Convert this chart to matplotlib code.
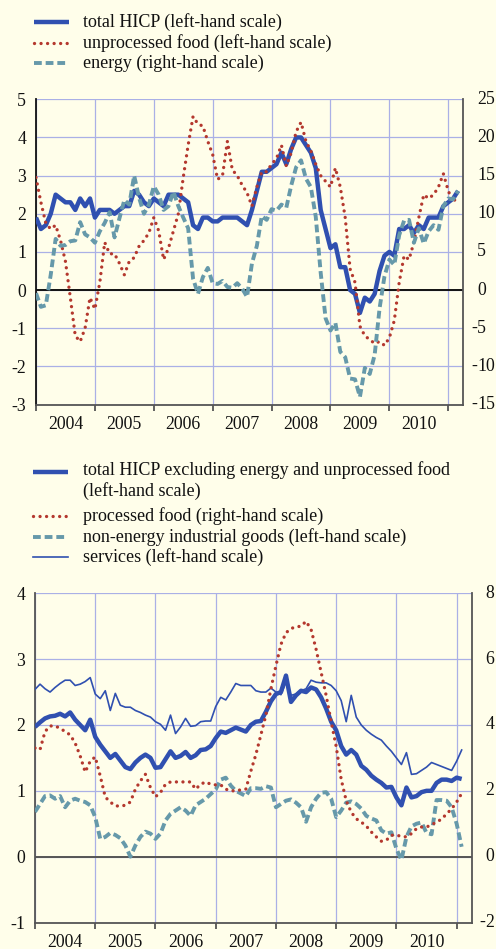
import matplotlib
matplotlib.use("Agg")
import matplotlib.pyplot as plt
import matplotlib.transforms as mtrans
from matplotlib.lines import Line2D
import numpy as np

plt.rcParams['font.family'] = ['Liberation Serif', 'DejaVu Serif']
plt.rcParams['axes.unicode_minus'] = False

# ---------------- data ----------------
start_year = 2004
year_labels = ['2004', '2005', '2006', '2007', '2008', '2009', '2010']

# top chart: Jan 2004 - Mar 2011 (annual % changes)
total_hicp = [1.9, 1.6, 1.7, 2.0, 2.5, 2.4, 2.3, 2.3, 2.1, 2.4, 2.2, 2.4,
              1.9, 2.1, 2.1, 2.1, 2.0, 2.1, 2.2, 2.2, 2.6, 2.5, 2.3, 2.2,
              2.4, 2.3, 2.2, 2.5, 2.5, 2.5, 2.4, 2.3, 1.7, 1.6, 1.9, 1.9,
              1.8, 1.8, 1.9, 1.9, 1.9, 1.9, 1.8, 1.7, 2.1, 2.6, 3.1, 3.1,
              3.2, 3.3, 3.6, 3.3, 3.7, 4.0, 4.0, 3.8, 3.6, 3.2, 2.1, 1.6,
              1.1, 1.2, 0.6, 0.6, 0.0, -0.1, -0.6, -0.2, -0.3, -0.1, 0.5, 0.9,
              1.0, 0.9, 1.6, 1.6, 1.7, 1.5, 1.7, 1.6, 1.9, 1.9, 1.9, 2.2,
              2.3, 2.4, 2.6]
unprocessed_food = [2.95, 2.3, 1.75, 1.6, 1.7, 1.3, 0.75, -0.2, -1.2, -1.35, -1.0, -0.2,
                    -0.5, 0.2, 1.25, 0.95, 0.95, 0.7, 0.4, 0.75, 0.85, 1.15, 1.3, 1.5,
                    1.9, 1.55, 0.8, 1.1, 1.55, 2.0, 2.95, 3.8, 4.55, 4.35, 4.3, 3.9,
                    3.55, 2.9, 3.0, 3.9, 3.15, 3.0, 2.75, 2.55, 2.2, 2.7, 3.1, 3.1,
                    3.3, 3.45, 3.8, 3.25, 3.6, 4.15, 4.4, 3.9, 3.65, 3.3, 3.0, 2.85,
                    2.7, 3.2, 2.7, 1.9, 0.55, 0.2, -0.95, -1.2, -1.3, -1.4, -1.35, -1.45,
                    -1.25, -0.8, 0.2, 0.9, 0.8, 1.25, 1.9, 2.5, 2.4, 2.5, 2.7, 3.05,
                    2.6, 2.3, 2.5]
energy = [-0.4, -2.2, -2.0, 2.0, 6.7, 5.8, 5.9, 6.4, 6.5, 8.9, 7.3, 6.9,
          6.2, 7.7, 8.8, 10.2, 6.9, 9.4, 11.8, 11.2, 15.0, 12.1, 10.0, 11.2,
          13.6, 12.5, 10.5, 11.0, 12.9, 11.0, 9.5, 8.1, 1.5, -0.5, 1.7, 2.9,
          0.9, 0.8, 1.2, 0.4, 0.3, 0.9, 0.2, -0.9, 3.5, 5.8, 9.7, 9.2,
          10.6, 10.4, 11.2, 10.8, 13.7, 16.1, 17.0, 14.6, 13.5, 9.6, 2.3, -3.7,
          -5.3, -4.3, -8.1, -8.8, -11.6, -11.7, -14.0, -10.2, -11.0, -8.5, -2.4, 1.8,
          4.0, 3.3, 7.2, 9.1, 9.2, 6.2, 8.1, 6.1, 7.7, 8.5, 7.9, 11.0,
          12.0, 11.9, 13.0]

# bottom chart: Jan 2004 - Feb 2011
hicp_ex = [1.97, 2.04, 2.1, 2.13, 2.14, 2.17, 2.13, 2.19, 2.08, 2.0, 1.92, 2.08,
           1.82, 1.7, 1.6, 1.5, 1.56, 1.46, 1.36, 1.33, 1.43, 1.5, 1.55, 1.5,
           1.35, 1.36, 1.48, 1.6, 1.5, 1.53, 1.59, 1.5, 1.54, 1.62, 1.63, 1.68,
           1.8, 1.9, 1.88, 1.92, 1.96, 1.93, 1.9, 2.0, 2.05, 2.06, 2.2, 2.36,
           2.47, 2.5, 2.75, 2.35, 2.45, 2.52, 2.5, 2.57, 2.54, 2.42, 2.25, 2.05,
           1.92, 1.68, 1.55, 1.62, 1.55, 1.38, 1.32, 1.23, 1.17, 1.12, 1.05, 1.06,
           0.9, 0.78, 1.05, 0.9, 0.92, 0.98, 1.0, 1.0, 1.12, 1.17, 1.17, 1.15,
           1.2, 1.18]
processed_food = [3.3, 3.25, 3.8, 3.97, 3.97, 3.9, 3.8, 3.7, 3.45, 3.06, 2.57, 2.9,
                  3.03, 2.45, 1.81, 1.66, 1.54, 1.54, 1.56, 1.66, 2.05, 2.3, 2.5, 2.1,
                  1.82, 1.95, 2.2, 2.27, 2.27, 2.27, 2.27, 2.27, 2.05, 2.2, 2.27, 2.2,
                  2.18, 2.18, 2.05, 2.0, 2.0, 2.03, 2.05, 2.6, 3.1, 3.7, 4.3, 5.1,
                  5.8, 6.45, 6.8, 6.93, 6.98, 7.0, 7.15, 6.9, 6.3, 5.6, 4.9, 4.1,
                  3.35, 2.35, 1.7, 1.35, 1.15, 1.05, 0.93, 0.75, 0.6, 0.47, 0.5, 0.65,
                  0.65, 0.62, 0.6, 0.7, 0.85, 0.9, 0.9, 0.97, 1.05, 1.14, 1.3, 1.45,
                  1.66, 1.92]
neig = [0.68, 0.8, 0.92, 0.93, 0.88, 0.92, 0.75, 0.85, 0.88, 0.85, 0.83, 0.78,
        0.6, 0.27, 0.3, 0.36, 0.33, 0.28, 0.17, 0.0, 0.17, 0.3, 0.38, 0.35,
        0.27, 0.35, 0.55, 0.65, 0.7, 0.75, 0.7, 0.62, 0.78, 0.83, 0.88, 0.95,
        1.02, 1.17, 1.2, 1.08, 1.0, 0.96, 0.92, 1.04, 1.04, 1.03, 1.07, 1.05,
        0.75, 0.8, 0.85, 0.87, 0.82, 0.75, 0.53, 0.75, 0.88, 0.97, 0.98, 0.88,
        0.6, 0.7, 0.82, 0.84, 0.8, 0.73, 0.62, 0.58, 0.55, 0.4, 0.35, 0.37,
        0.12, -0.05, 0.3, 0.46, 0.5, 0.52, 0.36, 0.34, 0.86, 0.86, 0.85, 0.75,
        0.5, 0.15]
services = [2.54, 2.62, 2.55, 2.5, 2.57, 2.63, 2.68, 2.68, 2.6, 2.62, 2.66, 2.72,
            2.47, 2.4, 2.52, 2.22, 2.48, 2.3, 2.27, 2.27, 2.22, 2.19, 2.15, 2.12,
            2.05, 2.01, 1.92, 2.15, 1.87, 1.97, 2.1, 1.98, 1.99, 2.05, 2.06, 2.06,
            2.28, 2.42, 2.38, 2.5, 2.63, 2.6, 2.6, 2.6, 2.52, 2.5, 2.5, 2.56,
            2.5, 2.46, 2.65, 2.45, 2.47, 2.52, 2.55, 2.68, 2.65, 2.64, 2.64, 2.6,
            2.52, 2.37, 2.05, 2.45, 2.12, 2.0, 1.92, 1.86, 1.81, 1.77, 1.68, 1.6,
            1.5, 1.4, 1.58, 1.25, 1.26, 1.31, 1.36, 1.43, 1.4, 1.37, 1.34, 1.31,
            1.45, 1.62]

top_labels = ['total HICP (left-hand scale)',
              'unprocessed food (left-hand scale)',
              'energy (right-hand scale)']
bottom_labels = ['total HICP excluding energy and unprocessed food\n(left-hand scale)',
                 'processed food (right-hand scale)',
                 'non-energy industrial goods (left-hand scale)',
                 'services (left-hand scale)']

# ---------------- style ----------------
W, H = 496, 949
BG = '#fffeea'
BLUE = '#3050b0'
RED = '#b4382e'
TEAL = '#6699aa'
GRID = '#aab0e6'
AXC = '#555555'
TXT = '#111111'
FS = 13.0     # legend
TFS = 12.8    # tick labels

fig = plt.figure(figsize=(W / 100, H / 100), dpi=100, facecolor=BG)


def px_axes(l, t, r, b):
    return fig.add_axes([l / W, 1 - b / H, (r - l) / W, (b - t) / H])


def months(n):
    return start_year + np.arange(n) / 12.0


STY_THICK = dict(color=BLUE, lw=3.2, solid_joinstyle='round', solid_capstyle='butt')
STY_DOT = dict(color=RED, lw=2.4, linestyle=(0, (0.01, 1.95)), dash_capstyle='round')
STY_DASH = dict(color=TEAL, lw=2.8, linestyle=(0, (2.0, 1.0)), dash_capstyle='butt')
STY_THIN = dict(color=BLUE, lw=1.2)


def style_axes(ax, axr, ylo, yhi, rlo, rhi, rstep, left_spine_color):
    x0, x1 = 2004.0, 2011.25
    ax.set_xlim(x0, x1)
    ax.set_ylim(ylo, yhi)
    axr.set_ylim(rlo, rhi)
    ax.set_facecolor(BG)
    axr.patch.set_visible(False)
    ax.set_yticks(np.arange(ylo, yhi + 1, 1))
    ax.set_yticklabels([str(v) for v in range(ylo, yhi + 1)])
    axr.set_yticks([])
    # right-hand scale labels: digits left-aligned 14 px right of the spine,
    # minus sign hanging in front of them (as in the reference)
    off = mtrans.ScaledTranslation(14 / 100, 0, fig.dpi_scale_trans)
    tr = mtrans.blended_transform_factory(axr.transAxes, axr.transData) + off
    for v in range(rlo, rhi + 1, rstep):
        axr.text(1.0, v, str(abs(v)), transform=tr, ha='left', va='center',
                 fontsize=TFS, color=TXT, clip_on=False)
        if v < 0:
            axr.text(1.0, v, '-', transform=tr, ha='right', va='center',
                     fontsize=TFS, color=TXT, clip_on=False)
    ax.set_xticks(np.arange(2004, 2012))
    ax.set_xticklabels([])
    ax.set_xticks(np.arange(2004, 2011) + 0.5, minor=True)
    ax.set_xticklabels(year_labels, minor=True)
    ax.tick_params(axis='x', which='major', length=4, width=1.3, color=AXC, direction='out')
    ax.tick_params(axis='x', which='minor', length=0, pad=8, labelsize=TFS, labelcolor=TXT)
    ax.tick_params(axis='y', length=0, pad=7, labelsize=TFS, labelcolor=TXT)
    ax.grid(True, which='major', color=GRID, lw=0.9)
    ax.set_axisbelow(True)
    for s in ['top', 'right']:
        ax.spines[s].set_visible(False)
    ax.spines['left'].set_color(left_spine_color)
    ax.spines['left'].set_linewidth(1.3)
    ax.spines['bottom'].set_color(AXC)
    ax.spines['bottom'].set_linewidth(1.3)
    for s in ['top', 'left', 'bottom']:
        axr.spines[s].set_visible(False)
    axr.spines['right'].set_color(AXC)
    axr.spines['right'].set_linewidth(1.3)


# ---------------- top chart ----------------
ax1 = px_axes(36, 99.3, 463, 404.5)
ax1r = ax1.twinx()
style_axes(ax1, ax1r, -3, 5, -15, 25, 5, '#111111')
ax1.axhline(0, color='#111111', lw=1.4, zorder=1.5)
ax1.plot(months(len(total_hicp)), total_hicp, zorder=3, **STY_THICK)
ax1.plot(months(len(unprocessed_food)), unprocessed_food, zorder=4, **STY_DOT)
ax1r.plot(months(len(energy)), energy, zorder=3, **STY_DASH)

# ---------------- bottom chart ----------------
ax2 = px_axes(35, 593.3, 471.7, 922.5)
ax2r = ax2.twinx()
style_axes(ax2, ax2r, -1, 4, -2, 8, 2, AXC)
ax2.axhline(0, color=AXC, lw=1.4, zorder=1.5)
ax2.plot(months(len(hicp_ex)), hicp_ex, zorder=3, **STY_THICK)
ax2.plot(months(len(neig)), neig, zorder=3.5, **STY_DASH)
ax2.plot(months(len(services)), services, zorder=4, **STY_THIN)
ax2r.plot(months(len(processed_food)), processed_food, zorder=3, **STY_DOT)


# ---------------- legends (manual) ----------------
def legend_row(y, style, label, hx0, hx1, tx=83):
    yy = 1 - y / H
    fig.add_artist(Line2D([hx0 / W, hx1 / W], [yy, yy], transform=fig.transFigure, **style))
    if '\n' in label:
        fig.text(tx / W, 1 - (y - 10.5) / H, label, ha='left', va='top', fontsize=FS,
                 color=TXT, linespacing=1.18)
    else:
        fig.text(tx / W, yy, label, ha='left', va='center', fontsize=FS, color=TXT)


for y, sty, lab in zip([22, 43, 63], [STY_THICK, STY_DOT, STY_DASH], top_labels):
    legend_row(y, sty, lab, 34, 69)

for y, sty, lab in zip([472, 516, 537, 557], [STY_THICK, STY_DOT, STY_DASH, STY_THIN],
                       bottom_labels):
    legend_row(y, sty, lab, 33, 68)

fig.savefig('out.png', dpi=100, facecolor=BG)
